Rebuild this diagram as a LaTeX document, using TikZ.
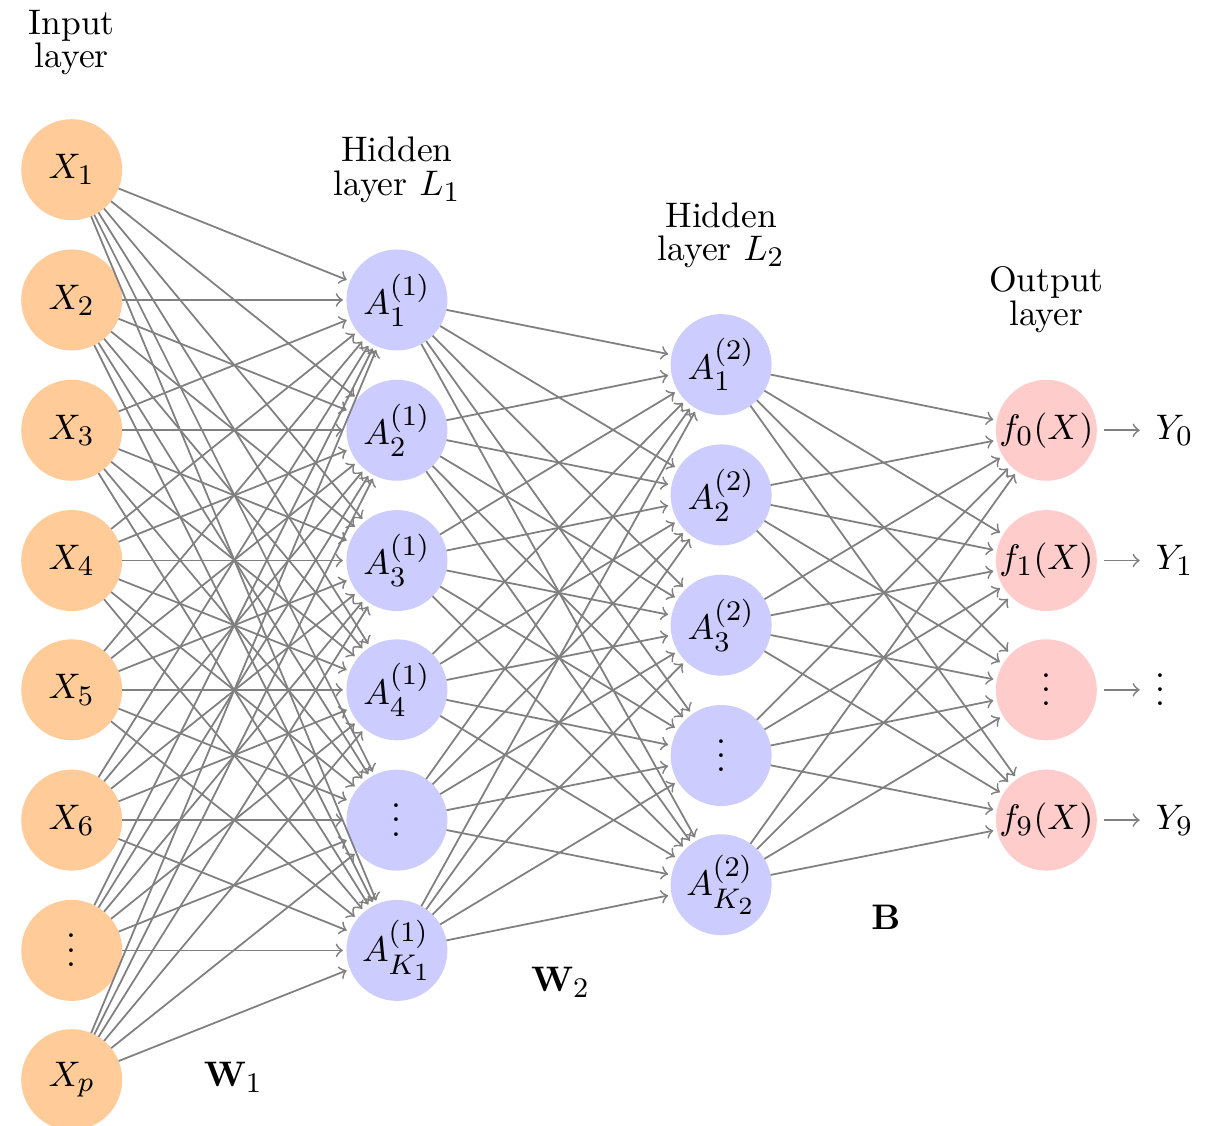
\documentclass[tikz,border=0pt]{standalone}
\usepackage{amssymb, amsmath}
\usepackage{tkz-graph}
\DeclareMathSizes{10}{10}{8}{7}
\newcommand{\mydots}{\raisebox{0pt}[9pt][0pt]{$\vdots$}}

\begin{document}
\begin{tikzpicture}
\tikzstyle{VertexStyle}=[shape = circle,
                         minimum size = 1cm,
                         inner sep = 0pt]
\SetUpEdge[lw = 0.5pt, color = gray]
\tikzstyle{EdgeStyle}=[draw, ->, >=to, gray, line width = 0.5pt, shorten > = 1pt]
\useasboundingbox (0,0) rectangle (12,-11.14);
% input layer
\Vertex[style = {fill = orange!40}, x = 0.71, y = -1.68, L = {$X_1$}]{x1}
\Vertex[style = {fill = orange!40}, x = 0.71, y = -2.97, L = {$X_2$}]{x2}
\Vertex[style = {fill = orange!40}, x = 0.71, y = -4.26, L = {$X_3$}]{x3}
\Vertex[style = {fill = orange!40}, x = 0.71, y = -5.55, L = {$X_4$}]{x4}
\Vertex[style = {fill = orange!40}, x = 0.71, y = -6.83, L = {$X_5$}]{x5}
\Vertex[style = {fill = orange!40}, x = 0.71, y = -8.12, L = {$X_6$}]{x6}
\Vertex[style = {fill = orange!40, minimum size = 1.1cm}, x = 0.71, y = -9.41, L = {\mydots}]{x7}
\Vertex[style = {fill = orange!40}, x = 0.71, y = -10.69, L = {$X_p$}]{x8}
% hidden layer L1
\Vertex[style = {fill = blue!20}, x = 3.93, y = -2.97, L = {$A_1^{(1)}$}]{a1}
\Vertex[style = {fill = blue!20}, x = 3.93, y = -4.26, L = {$A_2^{(1)}$}]{a2}
\Vertex[style = {fill = blue!20}, x = 3.93, y = -5.55, L = {$A_3^{(1)}$}]{a3}
\Vertex[style = {fill = blue!20}, x = 3.93, y = -6.83, L = {$A_4^{(1)}$}]{a4}
\Vertex[style = {fill = blue!20, minimum size = 1.03cm}, x = 3.93, y = -8.12, L = {\mydots}]{a5}
\Vertex[style = {fill = blue!20, minimum size = 1.08cm}, x = 3.93, y = -9.41, L = {$A_{K_1}^{(1)}$}]{a6}
% hidden layer L2
\Vertex[style = {fill = blue!20}, x = 7.14, y = -3.61, L = {$A_1^{(2)}$}]{b1}
\Vertex[style = {fill = blue!20}, x = 7.14, y = -4.90, L = {$A_2^{(2)}$}]{b2}
\Vertex[style = {fill = blue!20}, x = 7.14, y = -6.19, L = {$A_3^{(2)}$}]{b3}
\Vertex[style = {fill = blue!20, minimum size = 1.06cm}, x = 7.14, y = -7.48, L = {\mydots}]{b4}
\Vertex[style = {fill = blue!20, minimum size = 1.07cm}, x = 7.14, y = -8.76, L = {$A_{K_2}^{(2)}$}]{b5}
% output layer
\Vertex[style = {fill = red!20}, x = 10.36, y = -4.26, L = {$f_0(X)$}]{f1}
\Vertex[style = {fill = red!20}, x = 10.36, y = -5.55, L = {$f_1(X)$}]{f2}
\Vertex[style = {fill = red!20}, x = 10.36, y = -6.83, L = {\mydots}]{f3}
\Vertex[style = {fill = red!20}, x = 10.36, y = -8.12, L = {$f_9(X)$}]{f4}
\node[anchor = west] (y1) at (11.32,-4.26) {$Y_0$};
\node[anchor = west] (y2) at (11.32,-5.55) {$Y_1$};
\node[anchor = west] (y3) at (11.32,-6.83) {\mydots};
\node[anchor = west] (y4) at (11.32,-8.12) {$Y_9$};
% layer titles and weights
\node[align = center] (tin) at (0.71,-0.42) {Input\\[-2.5pt]layer};
\node[align = center] (th1) at (3.93,-1.68) {Hidden\\[-2.5pt]layer $L_1$};
\node[align = center] (th2) at (7.14,-2.33) {Hidden\\[-2.5pt]layer $L_2$};
\node[align = center] (tout) at (10.36,-2.97) {Output\\[-2.5pt]layer};
\node (w1) at (2.31,-10.67) {$\mathbf{W}_1$};
\node (w2) at (5.55,-9.73) {$\mathbf{W}_2$};
\node (wb) at (8.77,-9.08) {$\mathbf{B}$};
\foreach \i in {1,...,8}{\foreach \j in {1,...,6}{\Edge(x\i)(a\j)}}
\foreach \i in {1,...,6}{\foreach \j in {1,...,5}{\Edge(a\i)(b\j)}}
\foreach \i in {1,...,5}{\foreach \j in {1,...,4}{\Edge(b\i)(f\j)}}
\foreach \i in {1,...,4}{\Edge[style = {shorten < = 2pt}](f\i)(y\i)}
\end{tikzpicture}
\end{document}
